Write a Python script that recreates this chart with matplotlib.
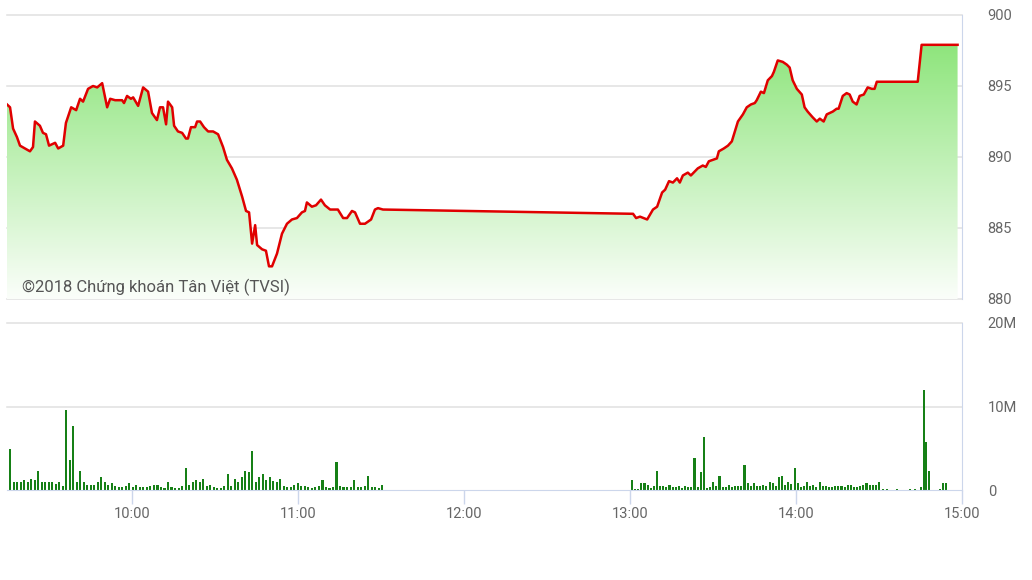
import numpy as np
import matplotlib.pyplot as plt
from matplotlib.colors import LinearSegmentedColormap

plt.rcParams['font.family'] = ['Roboto', 'DejaVu Sans']

# times are minutes after 09:00
am_time = [14.8, 15.9, 17.0, 18.4, 19.5, 21.3, 23.1, 24.2, 24.9, 26.7,
           27.8, 28.9, 30.0, 32.2, 33.3, 35.1, 36.1, 38.0, 39.8, 41.2,
           42.3, 44.1, 45.9, 47.4, 49.2, 51.0, 52.1, 53.9, 56.4, 57.1,
           58.2, 59.6, 60.4, 62.2, 64.0, 65.8, 67.2, 69.0, 70.1, 71.2,
           72.3, 73.0, 74.5, 75.2, 76.6, 78.1, 79.5, 80.2, 81.3, 82.8,
           83.5, 84.6, 86.0, 87.5, 89.3, 91.1, 92.9, 94.3, 96.1, 97.9,
           99.8, 101.2, 102.3, 103.4, 104.5, 105.2, 107.0, 108.4, 109.5, 110.6,
           112.4, 114.2, 116.0, 117.8, 119.6, 121.4, 122.5, 123.2, 125.0, 126.5,
           128.3, 129.7, 131.6, 134.4, 136.3, 137.7, 139.5, 140.6, 142.4, 144.2,
           146.4, 147.8, 148.9, 150.7]
am_price = [893.7, 893.5, 892.0, 891.4, 890.8, 890.6, 890.4, 890.7, 892.5, 892.2,
            891.7, 891.6, 890.8, 891.0, 890.6, 890.8, 892.4, 893.5, 893.3, 894.1,
            893.9, 894.8, 895.0, 894.9, 895.2, 893.5, 894.1, 894.0, 894.0, 893.8,
            894.3, 894.1, 894.2, 893.6, 894.9, 894.6, 893.1, 892.6, 893.5, 893.5,
            892.3, 893.9, 893.5, 892.2, 891.8, 891.7, 891.3, 891.3, 892.1, 892.1,
            892.5, 892.5, 892.1, 891.8, 891.8, 891.6, 890.7, 889.8, 889.2, 888.4,
            887.2, 886.2, 886.1, 883.9, 885.2, 883.8, 883.5, 883.4, 882.3, 882.3,
            883.2, 884.6, 885.3, 885.6, 885.7, 886.1, 886.2, 886.8, 886.5, 886.6,
            887.0, 886.6, 886.3, 886.3, 885.7, 885.7, 886.2, 886.1, 885.3, 885.3,
            885.6, 886.3, 886.4, 886.3]

pm_time = [241.1, 242.2, 243.6, 246.2, 248.3, 249.8, 251.6, 252.7, 254.1,
           255.5, 257.0, 258.0, 259.1, 260.9, 262.0, 263.5, 264.5, 266.3, 267.4,
           268.5, 269.9, 271.4, 272.1, 273.9, 275.4, 276.8, 277.9, 279.0, 280.8,
           282.2, 283.7, 285.1, 285.8, 287.3, 288.4, 289.8, 291.3, 292.0, 293.4,
           295.2, 296.7, 297.7, 298.8, 300.3, 302.1, 303.1, 304.2, 306.0, 307.5,
           308.6, 310.0, 311.1, 313.3, 314.7, 315.4, 316.9, 318.3, 319.4, 320.5,
           321.9, 323.0, 324.5, 325.9, 327.4, 328.4, 329.2, 344.0, 345.4, 358.4]
pm_price = [886.0, 885.7, 885.8, 885.6, 886.3, 886.5, 887.5, 887.7, 888.3,
            888.2, 888.5, 888.2, 888.7, 888.9, 888.7, 889.0, 889.2, 889.4, 889.3,
            889.7, 889.8, 889.9, 890.4, 890.6, 890.8, 891.1, 891.8, 892.5, 893.0,
            893.5, 893.7, 893.8, 894.0, 894.6, 894.5, 895.4, 895.7, 896.0, 896.8,
            896.7, 896.5, 896.3, 895.4, 894.8, 894.4, 893.5, 893.2, 892.8, 892.5,
            892.7, 892.5, 893.0, 893.2, 893.4, 893.4, 894.3, 894.5, 894.4, 893.9,
            893.7, 894.3, 894.4, 894.9, 894.8, 894.8, 895.3, 895.3, 897.9, 897.9]

# volume in millions
am_vol = [4.9, 0.9, 0.9, 1.0, 1.2, 0.9, 1.3, 1.2, 2.3, 1.0, 1.0, 0.9, 0.9, 0.7, 0.9,
          0.5, 9.6, 3.6, 7.7, 1.0, 2.3, 0.9, 0.6, 0.6, 0.6, 1.0, 1.5, 0.9, 0.6, 0.8,
          0.5, 0.3, 0.3, 0.5, 0.8, 0.3, 0.6,
          0.4, 0.3, 0.4, 0.5, 0.6, 0.6, 0.4, 0.2, 0.9, 0.4, 0.2, 0.2, 0.5, 2.6, 0.6,
          1.0, 1.2, 1.0, 1.3, 0.5, 0.6, 0.4, 0.2, 0.2, 0.5, 1.9, 0.5, 1.3, 1.0, 1.5,
          2.3, 2.2, 4.7, 1.0, 1.5,
          1.9, 1.2, 1.5, 1.1, 0.9, 1.3, 0.5, 0.3, 0.4, 0.6, 0.8, 0.5, 0.5, 0.3, 0.2,
          0.3, 0.5, 1.2, 0.3, 0.2, 0.4, 3.3, 0.5, 0.3, 0.3, 0.3, 1.2, 0.4, 0.4, 0.5,
          1.7, 0.3, 0.3, 0.2, 0.6]
pm_vol = [1.2, 0.1, 0.1, 0.8, 0.8, 0.6, 0.2, 0.5, 2.3, 0.5, 0.5, 0.3, 0.6, 0.3, 0.3,
          0.5, 0.2, 0.5, 0.3, 0.3, 3.8, 0.3, 2.2, 6.4, 0.2, 0.3, 0.9, 0.5, 1.7, 0.3,
          0.3, 0.6, 0.3, 0.5,
          0.5, 0.5, 3.0, 0.8, 0.5, 0.8, 0.5, 0.5, 0.6, 0.5, 0.9, 0.8, 0.5, 1.6, 1.7,
          0.6, 0.9, 0.7, 2.6, 0.8, 0.3, 0.5, 0.9, 0.5, 0.6, 0.3, 0.9, 0.5, 0.5, 0.3,
          0.3, 0.5, 0.5,
          0.5, 0.3, 0.6, 0.6, 0.3, 0.3, 0.5, 0.6, 0.8, 0.6, 0.6, 0.6, 1.0]
tail_time = [331.4, 332.9, 336.5, 341.2, 343.0, 345.1, 346.2, 347.0, 348.0, 352.0, 353.1, 354.2]
tail_vol = [0.1, 0.1, 0.1, 0.1, 0.1, 0.3, 12.0, 5.7, 2.3, 0.1, 0.8, 0.8]

hour_ticks = [60, 120, 180, 240, 300, 360]
hour_labels = ["10:00", "11:00", "12:00", "13:00", "14:00", "15:00"]
price_ticks = [880, 885, 890, 895, 900]
vol_ticks = [0, 10, 20]
vol_labels = ["0", "10M", "20M"]

W, H = 1032, 580
fig = plt.figure(figsize=(W / 100, H / 100), dpi=100)
ax = fig.add_axes([7 / W, 1 - 299 / H, 955 / W, 284 / H])
ax2 = fig.add_axes([7 / W, 1 - 490 / H, 955 / W, 167 / H], sharex=ax)

grid_c = '#e0e0e0'
axis_c = '#ccd6eb'
text_c = '#666666'

# price panel
t = np.array(am_time + pm_time)
p = np.array(am_price + pm_price)
poly = ax.fill_between(t, p, 880, facecolor='none', lw=0)
cmap = LinearSegmentedColormap.from_list('fade', ['#fbfefa', '#8ee57c'])
grad = np.linspace(0, 1, 256).reshape(-1, 1)
img = ax.imshow(grad, extent=[t[0], t[-1], 880, 898], origin='lower',
                cmap=cmap, aspect='auto', zorder=1)
img.set_clip_path(poly.get_paths()[0], transform=ax.transData)
ax.plot(t, p, color='#e00000', lw=1.8, zorder=3, solid_joinstyle='round')

for y in price_ticks:
    ax.axhline(y, color=grid_c, lw=1.1, zorder=0, clip_on=False)
ax.set_xlim(14.8, 360)
ax.set_ylim(880, 900)
ax.yaxis.tick_right()
ax.set_yticks(price_ticks)
ax.tick_params(axis='y', length=0, pad=18.5, labelsize=10.5, labelcolor=text_c)
ax.tick_params(axis='x', which='both', bottom=False, labelbottom=False)
for s in ['top', 'left', 'bottom']:
    ax.spines[s].set_visible(False)
ax.spines['right'].set_color(axis_c)

fig.text(22 / W, 1 - 287 / H, '©2018 Chứng khoán Tân Việt (TVSI)',
         ha='left', va='center', fontsize=12, color='#555555')

# volume panel
am_pos = np.linspace(15.9, 150.4, len(am_vol))
pm_pos = np.linspace(240.7, 330.0, len(pm_vol))
bar_c = '#168016'
ax2.bar(am_pos, am_vol, width=0.75, color=bar_c, zorder=2)
ax2.bar(pm_pos, pm_vol, width=0.75, color=bar_c, zorder=2)
ax2.bar(tail_time, tail_vol, width=0.75, color=bar_c, zorder=2)
for y in vol_ticks[1:]:
    ax2.axhline(y, color=grid_c, lw=1.1, zorder=0, clip_on=False)
ax2.set_ylim(0, 20)
ax2.yaxis.tick_right()
ax2.set_yticks(vol_ticks)
ax2.set_yticklabels(vol_labels)
ax2.tick_params(axis='y', length=0, pad=18.5, labelsize=10.5, labelcolor=text_c)
ax2.set_xticks(hour_ticks)
ax2.set_xticklabels(hour_labels)
ax2.tick_params(axis='x', length=10, width=1, color=axis_c, pad=2,
                labelsize=10.5, labelcolor=text_c, labelbottom=True)
for s in ['top', 'left']:
    ax2.spines[s].set_visible(False)
ax2.spines['right'].set_color(axis_c)
ax2.spines['bottom'].set_color(axis_c)

fig.savefig('out.png', dpi=100)
